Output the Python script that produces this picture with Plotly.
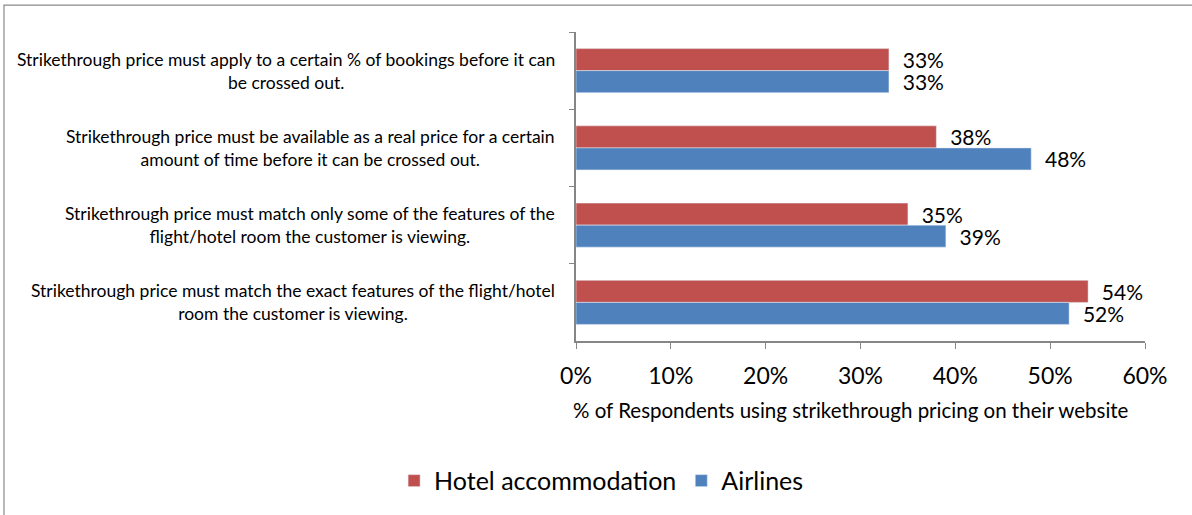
import plotly.graph_objects as go

categories = [
    "Strikethrough price must apply to a certain % of bookings before it can<br>be crossed out.",
    "Strikethrough price must be available as a real price for a certain<br>amount of time before it can be crossed out.",
    "Strikethrough price must match only some of the features of the<br>flight/hotel room the customer is viewing.",
    "Strikethrough price must match the exact features of the flight/hotel<br>room the customer is viewing.",
]
hotel = [33, 38, 35, 54]
airlines = [33, 48, 39, 52]
x_ticks = [0, 10, 20, 30, 40, 50, 60]
x_ticklabels = [f"{t}%" for t in x_ticks]
x_title = "% of Respondents using strikethrough pricing on their website"

FONT = "Lato, Carlito, Calibri, sans-serif"
cat_ids = [f"c{i}" for i in range(len(categories))]

fig = go.Figure()
fig.add_trace(go.Bar(
    y=cat_ids, x=hotel, orientation="h", name="Hotel accommodation",
    marker=dict(color="#C0504D"),
    text=[f"  {v}%" for v in hotel], textposition="outside", cliponaxis=False,
    constraintext="none",
    textfont=dict(size=21, color="#000000", family=FONT),
))
fig.add_trace(go.Bar(
    y=cat_ids, x=airlines, orientation="h", name="Airlines",
    marker=dict(color="#4F81BD"),
    text=[f"  {v}%" for v in airlines], textposition="outside", cliponaxis=False,
    constraintext="none",
    textfont=dict(size=21, color="#000000", family=FONT),
))

# category labels, centered lines like the original
for cid, label in zip(cat_ids, categories):
    fig.add_annotation(
        x=0, xref="paper", y=cid, yref="y", text=label, showarrow=False,
        xanchor="right", align="center", xshift=-19,
        font=dict(size=17.5, color="#000000", family=FONT),
    )

# axis title (sits a bit left of the plot centre in the original)
fig.add_annotation(
    x=0.483, xref="paper", y=-0.2226, yref="paper", text=x_title, showarrow=False,
    xanchor="center", yanchor="middle", font=dict(size=20.5, color="#000000", family=FONT),
)

# outer chart border
fig.add_shape(type="rect", xref="paper", yref="paper",
              x0=-1.0053, x1=1.2, y0=-0.9, y1=1.087,
              line=dict(color="#898989", width=1.2))

fig.update_layout(
    width=1192, height=515,
    margin=dict(l=576, r=47, t=32, b=173),
    paper_bgcolor="white", plot_bgcolor="white",
    barmode="group", bargap=0.43, bargroupgap=0,
    font=dict(family=FONT, color="#000000"),
    showlegend=True,
    legend=dict(orientation="h", x=0.045, xanchor="center", y=-0.448, yanchor="middle",
                traceorder="normal", font=dict(size=25, family=FONT),
                itemwidth=30),
    xaxis=dict(
        range=[0, 60], tickvals=x_ticks, ticktext=x_ticklabels,
        showgrid=False, zeroline=False, showline=True, linecolor="#868686", linewidth=1.5,
        ticks="outside", ticklen=6, tickcolor="#868686", ticklabelstandoff=8,
        tickfont=dict(size=23, family=FONT),
    ),
    yaxis=dict(
        type="category", autorange="reversed", showticklabels=False,
        showgrid=False, showline=True, linecolor="#868686", linewidth=1.5,
        ticks="outside", ticklen=5, tickcolor="#868686", tickson="boundaries",
    ),
)

fig.write_html("out.html", config={"displayModeBar": False},
               post_script="document.body.style.margin='0px';")
